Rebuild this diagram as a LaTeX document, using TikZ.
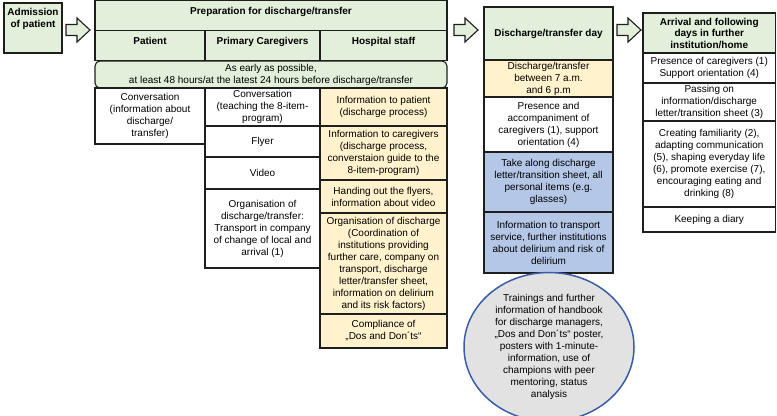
\documentclass[tikz,border=0pt]{standalone}
\usepackage{fontspec}
\setmainfont{Liberation Sans}
\usetikzlibrary{shapes.geometric}
\definecolor{gr}{HTML}{E2EFDA}
\definecolor{ye}{HTML}{FFF2CC}
\definecolor{bl}{HTML}{B4C7E7}
\definecolor{el}{HTML}{E2E2E2}
\definecolor{eb}{HTML}{3B5DA8}
\definecolor{ln}{HTML}{1E1E1E}
\begin{document}
\begin{tikzpicture}[x=1bp,y=-1bp,
  txt/.style={font=\fontsize{10bp}{12bp}\selectfont},
  cell/.style={txt, draw=ln, line width=1.1bp, align=center, inner sep=1bp, outer sep=0pt, anchor=north west},
  sz/.style 2 args={minimum width=#1bp, minimum height=#2bp},
  lbl/.style={txt, anchor=north, yshift=-3bp, align=center, font=\fontsize{10bp}{12bp}\selectfont\bfseries},
  barrow/.style={draw=ln, line width=1.1bp, fill=gr, line join=miter}
]
\useasboundingbox (0,0) rectangle (777,415);

% admission
\node[cell, sz={58}{50}, fill=gr] (adm) at (4,3) {};
\node[lbl, yshift=1bp] (admt) at (adm.north) {Admission\\of patient};

% arrow 1
\draw[barrow] (66,24.5) -- (77,24.5) -- (77,18) -- (90,30) -- (77,42) -- (77,35.5) -- (66,35.5) -- cycle;

% preparation table
\node[cell, sz={352}{30}, fill=gr] (prep) at (95,0.6) {};
\node[lbl] (prept) at (prep.north) {Preparation for discharge/transfer};
\node[cell, sz={110}{30}, fill=gr] (hpat) at (95,30.6) {};
\node[lbl] (hpatt) at (hpat.north) {Patient};
\node[cell, sz={115}{30}, fill=gr] (hcar) at (205,30.6) {};
\node[lbl] (hcart) at (hcar.north) {Primary Caregivers};
\node[cell, sz={127}{30}, fill=gr] (hstf) at (320,30.6) {};
\node[lbl] (hstft) at (hstf.north) {Hospital staff};

\node[cell, sz={352}{27}, fill=gr, rounded corners=5bp] (early) at (95,61)
  {As early as possible,\\at least 48 hours/at the latest 24 hours before discharge/transfer};

\node[cell, sz={110}{56}] (pconv) at (95,88)
  {Conversation\\(information about\\discharge/\\transfer)};

\node[cell, sz={115}{38}] (cconv) at (205,88)
  {Conversation\\(teaching the 8-item-\\program)};
\node[cell, sz={115}{31}] (cfly) at (205,126) {Flyer};
\node[cell, sz={115}{32}] (cvid) at (205,157) {Video};
\node[cell, sz={115}{79}] (corg) at (205,189)
  {Organisation of\\discharge/transfer:\\Transport in company\\of change of local and\\arrival (1)};

\node[cell, sz={127}{38}, fill=ye] (sinfp) at (320,88)
  {Information to patient\\(discharge process)};
\node[cell, sz={127}{54}, fill=ye] (sinfc) at (320,126)
  {Information to caregivers\\(discharge process,\\converstaion guide to the\\8-item-program)};
\node[cell, sz={127}{33}, fill=ye] (shand) at (320,180)
  {Handing out the flyers,\\information about video};
\node[cell, sz={127}{101}, fill=ye] (sorg) at (320,213)
  {Organisation of discharge\\(Coordination of\\institutions providing\\further care, company on\\transport, discharge\\letter/transfer sheet,\\information on delirium\\and its risk factors)};
\node[cell, sz={127}{34}, fill=ye] (scomp) at (320,314)
  {Compliance of\\„Dos and Don´ts“};

% arrow 2
\draw[barrow] (454,24.5) -- (465,24.5) -- (465,18) -- (478,30) -- (465,42) -- (465,35.5) -- (454,35.5) -- cycle;

% discharge day
\node[cell, sz={129}{53}, fill=gr, font=\fontsize{10bp}{12bp}\selectfont\bfseries] (dday) at (484,7)
  {Discharge/transfer day};
\node[cell, sz={129}{37}, fill=ye] (dtime) at (484,60)
  {Discharge/transfer\\between 7 a.m.\\and 6 p.m};
\node[cell, sz={129}{55}] (dpres) at (484,97)
  {Presence and\\accompaniment of\\caregivers (1), support\\orientation (4)};
\node[cell, sz={129}{60}, fill=bl] (dtake) at (484,152)
  {Take along discharge\\letter/transition sheet, all\\personal items (e.g.\\glasses)};
\node[cell, sz={129}{61}, fill=bl] (dinfo) at (484,212)
  {Information to transport\\service, further institutions\\about delirium and risk of\\delirium};

% arrow 3
\draw[barrow] (617,24.5) -- (628,24.5) -- (628,18) -- (641,30) -- (628,42) -- (628,35.5) -- (617,35.5) -- cycle;

% arrival
\node[cell, sz={132.5}{40}, fill=gr, font=\fontsize{10bp}{11.5bp}\selectfont\bfseries] (arr) at (643,13)
  {Arrival and following\\days in further\\institution/home};
\node[cell, sz={132.5}{30}] (apres) at (643,53)
  {Presence of caregivers (1)\\Support orientation (4)};
\node[cell, sz={132.5}{38}] (apass) at (643,83)
  {Passing on\\information/discharge\\letter/transition sheet (3)};
\node[cell, sz={132.5}{86}] (acreat) at (643,121)
  {Creating familiarity (2),\\adapting communication\\(5), shaping everyday life\\(6), promote exercise (7),\\encouraging eating and\\drinking (8)};
\node[cell, sz={132.5}{25}] (adiary) at (643,207) {Keeping a diary};

% ellipse
\node[ellipse, txt, draw=eb, line width=1.5bp, fill=el, align=center, inner sep=0pt,
  minimum width=170bp, minimum height=132bp] (train) at (549,347)
  {Trainings and further\\information of handbook\\for discharge managers,\\„Dos and Don´ts“ poster,\\posters with 1-minute-\\information, use of\\champions with peer\\mentoring, status\\analysis};
\end{tikzpicture}
\end{document}
